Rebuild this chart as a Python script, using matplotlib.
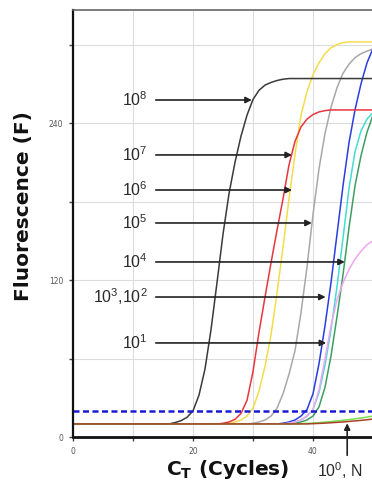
import matplotlib
matplotlib.use("Agg")
import matplotlib.pyplot as plt

plt.rcParams["font.family"] = ["DejaVu Sans"]
plt.rcParams["mathtext.fontset"] = "dejavusans"

# Real-time PCR amplification curves: fluorescence read at every cycle
cycles = list(range(51))

f_1e8 = [10, 10, 10, 10, 10, 10, 10, 10, 10, 10, 10, 10, 10, 10, 10, 10, 10,
         11, 12.5, 15, 20, 32, 52, 82, 118, 155, 186, 210, 230, 246, 258, 265,
         269, 271, 272.5, 273.5, 274, 274, 274, 274, 274, 274, 274, 274, 274,
         274, 274, 274, 274, 274, 274]
f_1e7 = [10, 10, 10, 10, 10, 10, 10, 10, 10, 10, 10, 10, 10, 10, 10, 10, 10,
         10, 10, 10, 10, 10, 10, 10, 10, 10.5, 11.5, 13.5, 18, 28, 50, 80, 107,
         133, 158, 182, 208, 226, 237, 243, 246.5, 248.5, 249.5, 250, 250, 250,
         250, 250, 250, 250, 250]
f_1e6 = [10, 10, 10, 10, 10, 10, 10, 10, 10, 10, 10, 10, 10, 10, 10, 10, 10,
         10, 10, 10, 10, 10, 10, 10, 10, 10, 10.5, 11.5, 13, 16, 22, 35, 54, 78,
         110, 145, 182, 216, 246, 264, 277, 286, 293, 297.5, 300, 301.5, 302,
         302, 302, 302, 302]
f_1e5 = [10, 10, 10, 10, 10, 10, 10, 10, 10, 10, 10, 10, 10, 10, 10, 10, 10,
         10, 10, 10, 10, 10, 10, 10, 10, 10, 10, 10, 10, 10, 10.5, 11.5, 13, 16,
         22, 33, 48, 66, 95, 130, 170, 205, 232, 252, 267, 278, 285, 290, 293,
         295, 296.5]
f_1e4 = [10, 10, 10, 10, 10, 10, 10, 10, 10, 10, 10, 10, 10, 10, 10, 10, 10,
         10, 10, 10, 10, 10, 10, 10, 10, 10, 10, 10, 10, 10, 10, 10, 10, 10, 10,
         10.5, 11.5, 13, 16, 21, 33, 56, 85, 118, 155, 192, 225, 250, 270, 286,
         297]
f_1e3 = [10, 10, 10, 10, 10, 10, 10, 10, 10, 10, 10, 10, 10, 10, 10, 10, 10,
         10, 10, 10, 10, 10, 10, 10, 10, 10, 10, 10, 10, 10, 10, 10, 10, 10, 10,
         10, 10.5, 11.5, 13, 16, 21, 34, 55, 82, 115, 152, 190, 218, 234, 243,
         248]
f_1e2 = [10, 10, 10, 10, 10, 10, 10, 10, 10, 10, 10, 10, 10, 10, 10, 10, 10,
         10, 10, 10, 10, 10, 10, 10, 10, 10, 10, 10, 10, 10, 10, 10, 10, 10, 10,
         10, 10, 10.5, 11.5, 13, 16, 23, 38, 62, 92, 124, 160, 192, 215, 233,
         246]
f_1e1 = [10, 10, 10, 10, 10, 10, 10, 10, 10, 10, 10, 10, 10, 10, 10, 10, 10,
         10, 10, 10, 10, 10, 10, 10, 10, 10, 10, 10, 10, 10, 10, 10, 10, 10, 10,
         10, 10.5, 11.5, 13, 16, 21, 36, 60, 85, 105, 118, 128, 136, 142, 147,
         150]
f_1e0 = [10, 10, 10, 10, 10, 10, 10, 10, 10, 10, 10, 10, 10, 10, 10, 10, 10,
         10, 10, 10, 10, 10, 10, 10, 10, 10, 10, 10, 10, 10, 10, 10, 10, 10, 10,
         10, 10, 10, 10.2, 10.4, 10.7, 11, 11.4, 11.8, 12.3, 12.8, 13.3, 13.9,
         14.5, 15.2, 16]
f_ntc = [10, 10, 10, 10, 10, 10, 10, 10, 10, 10, 10, 10, 10, 10, 10, 10, 10,
         10, 10, 10, 10, 10, 10, 10, 10, 10, 10, 10, 10, 10, 10, 10, 10, 10, 10,
         10, 10, 10, 10, 10, 10.2, 10.4, 10.6, 10.9, 11.2, 11.5, 11.9, 12.3,
         12.7, 13.2, 13.7]

threshold = 20

curve_list = [
    (f_1e6, "#f5dc4c"),
    (f_1e5, "#a8a8a8"),
    (f_1e4, "#2b3de0"),
    (f_1e3, "#45dcd4"),
    (f_1e2, "#3e9e62"),
    (f_1e1, "#f2a6f0"),
    (f_1e7, "#e8363e"),
    (f_1e8, "#3a3a3a"),
    (f_1e0, "#78e04c"),
    (f_ntc, "#a8402c"),
]

# Dilution labels with the level and cycle their arrows point at
dilution_labels = [r"$\mathregular{10^{8}}$", r"$\mathregular{10^{7}}$",
                   r"$\mathregular{10^{6}}$", r"$\mathregular{10^{5}}$",
                   r"$\mathregular{10^{4}}$",
                   r"$\mathregular{10^{3}}$,$\mathregular{10^{2}}$",
                   r"$\mathregular{10^{1}}$"]
label_levels = [257.6, 215.6, 188.8, 163.6, 133.8, 107.0, 71.9]
arrow_tips = [29.8, 36.5, 36.5, 39.8, 45.3, 42.1, 42.2]

fig = plt.figure(figsize=(3.72, 4.86), dpi=100)
ax = fig.add_axes([73 / 372, 49 / 486, 300 / 372, 427 / 486])
ax.set_xlim(0, 50)
ax.set_ylim(0, 326.4)

ax.set_axisbelow(True)
ax.grid(color="#dcdcdc", lw=0.8)

for values, color in curve_list:
    ax.plot(cycles, values, color=color, lw=1.1, solid_capstyle="round")

ax.axhline(threshold, color="#1a1ad6", lw=1.8, ls=(0, (2.4, 1.4)))

for text, level, tip in zip(dilution_labels, label_levels, arrow_tips):
    ax.text(12.4, level, text, ha="right", va="center", fontsize=11.5,
            color="#2a2a2a", family="Liberation Sans")
    ax.annotate("", xy=(tip, level), xytext=(13.8, level),
                arrowprops=dict(arrowstyle="-|>", color="#222222", lw=1.2,
                                mutation_scale=9, shrinkA=0, shrinkB=0))

# Arrow from below the axis for the lowest dilution and the no-template control
ax.annotate("", xy=(45.7, 10.5), xytext=(45.7, -14), annotation_clip=False,
            arrowprops=dict(arrowstyle="-|>", color="#222222", lw=1.2,
                            mutation_scale=9, shrinkA=0, shrinkB=0))
ax.text(40.6, -25.5, r"$\mathregular{10^{0}}$, N", ha="left", va="center",
        fontsize=11.5, color="#2a2a2a", family="Liberation Sans",
        clip_on=False)

ax.set_yticks([0, 60, 120, 180, 240, 300])
ax.set_yticklabels(["0", "", "120", "", "240", ""])
ax.set_xticks([0, 10, 20, 30, 40])
ax.set_xticklabels(["0", "", "20", "", "40"])
ax.tick_params(axis="both", length=3, width=1, color="#444444",
               labelsize=5.5, labelcolor="#555555")
ax.tick_params(axis="y", pad=4)
ax.tick_params(axis="x", pad=4)

ax.spines["right"].set_visible(False)
ax.spines["left"].set_color("#111111")
ax.spines["left"].set_linewidth(1.6)
ax.spines["bottom"].set_color("#111111")
ax.spines["bottom"].set_linewidth(2.0)
ax.spines["top"].set_color("#666666")
ax.spines["top"].set_linewidth(1.2)

fig.text(24 / 372, 1 - 206 / 486, "Fluorescence (F)", rotation=90,
         ha="center", va="center", fontsize=14.5, fontweight="bold",
         color="#111111")
fig.text(228 / 372, 1 - 469 / 486,
         r"$\mathbf{C}_{\mathbf{T}}$ (Cycles)", ha="center", va="center",
         fontsize=14.5, fontweight="bold", color="#111111")

fig.savefig("out.png", dpi=100)
